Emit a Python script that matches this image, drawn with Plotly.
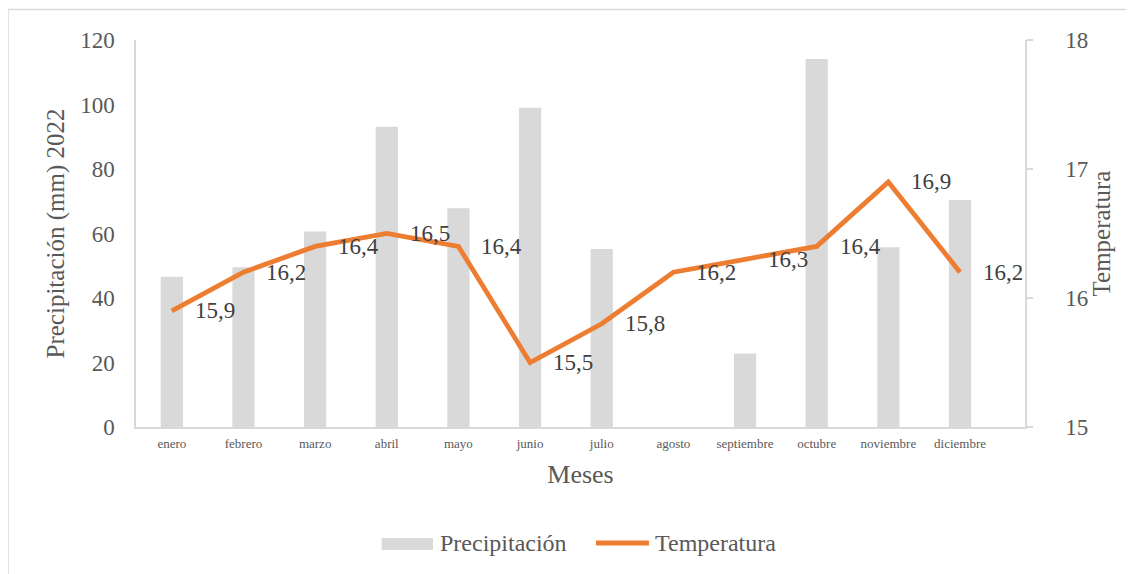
import plotly.graph_objects as go

meses = ["enero", "febrero", "marzo", "abril", "mayo", "junio", "julio",
         "agosto", "septiembre", "octubre", "noviembre", "diciembre"]
precipitacion = [46.6, 49.5, 60.6, 93.1, 67.8, 99.0, 55.2, 0, 22.8, 114.1, 55.7, 70.4]
temperatura = [15.9, 16.2, 16.4, 16.5, 16.4, 15.5, 15.8, 16.2, 16.3, 16.4, 16.9, 16.2]

FONT = "Liberation Serif"
TXT = "#595959"
GRID = "#D9D9D9"
BAR_COLOR = "#D9D9D9"
LINE_COLOR = "#ED7D31"

fig = go.Figure()
fig.add_trace(go.Bar(x=meses, y=precipitacion, name="Precipitación",
                     marker=dict(color=BAR_COLOR, line=dict(width=0)), yaxis="y"))
fig.add_trace(go.Scatter(x=meses, y=temperatura, name="Temperatura", mode="lines",
                         line=dict(color=LINE_COLOR, width=4.8), yaxis="y2"))

annotations = []
for m, t in zip(meses, temperatura):
    annotations.append(dict(x=m, y=t, xref="x", yref="y2", text=f"{t:.1f}".replace(".", ","),
                            showarrow=False, xanchor="left", yanchor="middle", xshift=21,
                            font=dict(family=FONT, size=23, color="#404040")))

# custom legend (Excel-style wide symbols)
annotations += [
    dict(x=0.3397, y=-0.2997, xref="paper", yref="paper", text="Precipitación", showarrow=False,
         xanchor="left", yanchor="middle", font=dict(family=FONT, size=24, color=TXT)),
    dict(x=0.5815, y=-0.2997, xref="paper", yref="paper", text="Temperatura", showarrow=False,
         xanchor="left", yanchor="middle", font=dict(family=FONT, size=24, color=TXT)),
]

shapes = [
    dict(type="rect", xref="paper", yref="paper", x0=-0.144, x1=1.13, y0=-0.40, y1=1.0788,
         line=dict(color=GRID, width=1.5), fillcolor="rgba(0,0,0,0)", layer="below"),
    dict(type="rect", xref="paper", yref="paper", x0=0.2764, x1=0.3341, y0=-0.3178, y1=-0.2868,
         line=dict(width=0), fillcolor=BAR_COLOR),
    dict(type="line", xref="paper", yref="paper", x0=0.5174, x1=0.5770, y0=-0.2997, y1=-0.2997,
         line=dict(color=LINE_COLOR, width=5)),
]

fig.update_layout(
    width=1134, height=574,
    margin=dict(l=128, r=117, t=32, b=155, autoexpand=False),
    paper_bgcolor="white", plot_bgcolor="white",
    font=dict(family=FONT, color=TXT),
    bargap=0.69,
    showlegend=False,
    xaxis=dict(showline=True, linecolor=GRID, linewidth=1.5, showgrid=False, ticks="",
               ticklabelstandoff=4, automargin=False,
               tickfont=dict(family=FONT, size=13, color=TXT),
               title=dict(text="Meses", font=dict(family=FONT, size=26, color=TXT), standoff=14)),
    yaxis=dict(range=[0, 120], dtick=20, showline=True, linecolor=GRID, linewidth=1.5,
               showgrid=False, zeroline=False, ticks="", ticklabelstandoff=15, automargin=False,
               tickfont=dict(family=FONT, size=23, color=TXT),
               title=dict(text="Precipitación (mm) 2022", font=dict(family=FONT, size=25, color=TXT), standoff=8)),
    yaxis2=dict(range=[15, 18], dtick=1, overlaying="y", side="right", showline=True,
                linecolor=GRID, linewidth=1.5, showgrid=False, zeroline=False, automargin=False,
                ticks="outside", ticklen=6, tickcolor=GRID, tickwidth=1.5, ticklabelstandoff=28,
                tickfont=dict(family=FONT, size=23, color=TXT),
                title=dict(text="Temperatura", font=dict(family=FONT, size=25, color=TXT), standoff=0)),
    annotations=annotations,
    shapes=shapes,
)

fig.write_html("out.html")
